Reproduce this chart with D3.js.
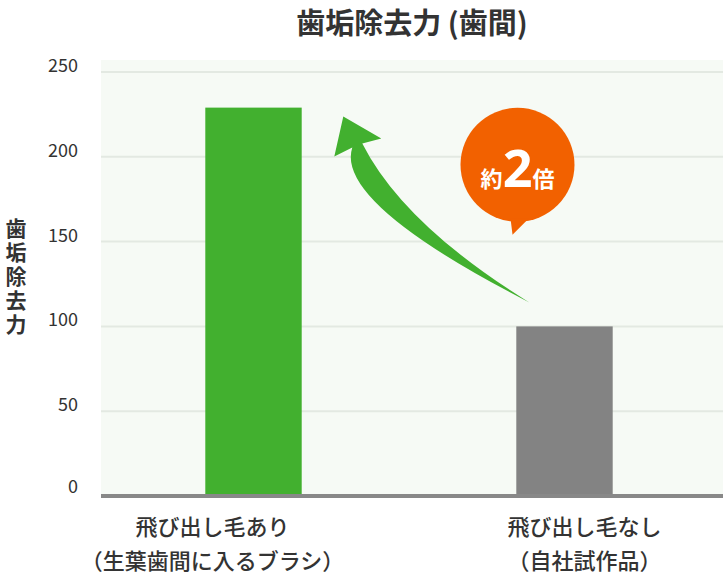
<!DOCTYPE html>
<html>
<head>
<meta charset="utf-8">
<script src="https://cdn.jsdelivr.net/npm/d3@7"></script>
<style>
  body { margin: 0; background: #ffffff; }
  svg { display: block; font-family: "Noto Sans CJK JP", "Noto Sans", sans-serif; }
</style>
</head>
<body>
<svg id="chart"></svg>
<script>
// Chart data ----------------------------------------
const categories = ["飛び出し毛あり", "飛び出し毛なし"];
const subLabels = ["（生葉歯間に入るブラシ）", "（自社試作品）"];
const values = [229, 100];
const barColors = ["#42b02f", "#838383"];
const yTicks = [0, 50, 100, 150, 200, 250];
const titleText = "歯垢除去力 (歯間)";
const yLabelText = "歯垢除去力";

const W = 723, H = 575;
const plot = { left: 101, right: 723, top: 60, bottom: 496 };

let svg = d3.select("#chart")
    .attr("width", W)
    .attr("height", H);

let x = d3.scaleBand()
    .domain(categories)
    .range([plot.left - 3, plot.right - 3])
    .paddingInner(0.69)
    .paddingOuter(0.345);

let y = d3.scaleLinear()
    .domain([0, 250])
    .range([plot.bottom, 72]);

// plot background
svg.append("rect")
    .attr("x", plot.left)
    .attr("y", plot.top)
    .attr("width", plot.right - plot.left)
    .attr("height", plot.bottom - plot.top)
    .attr("fill", "#f6faf5");

// gridlines
svg.append("g")
    .selectAll("line")
    .data(yTicks.filter(d => d > 0))
    .enter().append("line")
    .attr("x1", plot.left)
    .attr("x2", plot.right)
    .attr("y1", d => y(d))
    .attr("y2", d => y(d))
    .attr("stroke", "#e3e9e2")
    .attr("stroke-width", 2);

// tick labels
svg.append("g")
    .selectAll("text")
    .data(yTicks)
    .enter().append("text")
    .attr("x", 78)
    .attr("y", d => y(d) + (d === 0 ? -3 : 0))
    .attr("text-anchor", "end")
    .attr("font-size", "18px")
    .attr("fill", "#333333")
    .text(d => d);

// bars
svg.append("g")
    .selectAll("rect")
    .data(values)
    .enter().append("rect")
    .attr("x", (d, i) => x(categories[i]))
    .attr("y", d => y(d))
    .attr("width", x.bandwidth())
    .attr("height", d => y(0) - y(d))
    .attr("fill", (d, i) => barColors[i]);

// baseline
svg.append("line")
    .attr("x1", plot.left)
    .attr("x2", plot.right)
    .attr("y1", y(0))
    .attr("y2", y(0))
    .attr("stroke", "#888888")
    .attr("stroke-width", 4);

// title
svg.append("text")
    .attr("x", (plot.left + plot.right) / 2)
    .attr("y", 34)
    .attr("text-anchor", "middle")
    .attr("font-size", "29px")
    .attr("font-weight", "bold")
    .attr("fill", "#333333")
    .text(titleText);

// vertical y-axis label
svg.append("text")
    .attr("x", 16)
    .attr("y", 218)
    .attr("writing-mode", "vertical-rl")
    .attr("letter-spacing", "3px")
    .attr("font-size", "21px")
    .attr("font-weight", "bold")
    .attr("fill", "#333333")
    .text(yLabelText);

// category labels (two lines, shifted from the bar centres like the original)
const labelShift = [-41, 20];
let labels = svg.append("g")
    .selectAll("g")
    .data(categories)
    .enter().append("g")
    .attr("transform", (d, i) => `translate(${x(d) + x.bandwidth() / 2 + labelShift[i]},0)`);

labels.append("text")
    .attr("y", 535)
    .attr("text-anchor", "middle")
    .attr("font-size", "22px")
    .attr("font-weight", 500)
    .attr("fill", "#333333")
    .text(d => d);

labels.append("text")
    .attr("y", 569)
    .attr("text-anchor", "middle")
    .attr("font-size", "22px")
    .attr("font-weight", 500)
    .attr("fill", "#333333")
    .text((d, i) => subLabels[i]);

// curved arrow, from the grey bar up to the green bar
const tail = [x(categories[1]) + 13, y(values[1]) - 24];
const ax = tail[0], ay = tail[1];
const arrowPath = d3.path();
arrowPath.moveTo(ax - 186, ay - 186);            // tip
arrowPath.lineTo(ax - 148, ay - 164);            // right wing
arrowPath.lineTo(ax - 167, ay - 159);            // right notch
arrowPath.quadraticCurveTo(ax - 126, ay - 78, ax, ay);       // right edge to tail
arrowPath.quadraticCurveTo(ax - 195, ay - 100, ax - 177, ay - 155); // left edge back up
arrowPath.lineTo(ax - 195, ay - 146);            // left wing
arrowPath.closePath();

svg.append("path")
    .attr("d", arrowPath.toString())
    .attr("fill", "#42b02f");

// speech bubble "約2倍"
const bub = { cx: x(categories[1]) + x.bandwidth() / 2 - 47, cy: y(200) + 8, r: 57 };
let bubble = svg.append("g")
    .attr("transform", `translate(${bub.cx},${bub.cy})`);

bubble.append("circle")
    .attr("r", bub.r)
    .attr("fill", "#f26100");

bubble.append("path")
    .attr("d", "M-7,54 L-5,70 L11,54 Z")
    .attr("fill", "#f26100");

let bubbleText = bubble.append("text")
    .attr("y", 22)
    .attr("text-anchor", "middle")
    .attr("fill", "#ffffff")
    .attr("font-weight", "bold");
bubbleText.append("tspan").attr("font-size", "22px").text("約");
bubbleText.append("tspan").attr("font-size", "52px").attr("font-family", "Noto Sans, sans-serif").text("2");
bubbleText.append("tspan").attr("font-size", "22px").text("倍");
</script>
</body>
</html>
